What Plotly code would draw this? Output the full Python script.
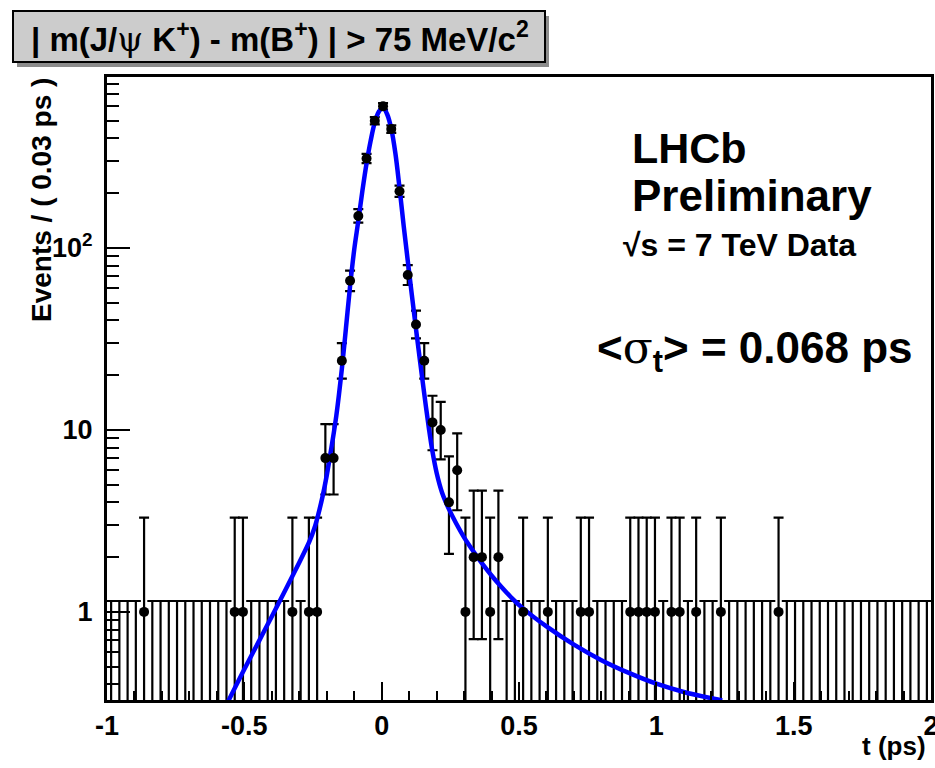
import math
import plotly.graph_objects as go

# Histogram binning of the decay time (ps)
T_MIN, T_MAX, BIN_W = -1.0, 2.0, 0.03

# Non-empty bins: bin centre (ps) and number of events
filled_t = [-0.865, -0.535, -0.505, -0.325, -0.265, -0.235, -0.205, -0.175,
            -0.145, -0.115, -0.085, -0.055, -0.025, 0.005, 0.035, 0.065,
            0.095, 0.125, 0.155, 0.185, 0.215, 0.245, 0.275, 0.305, 0.335,
            0.365, 0.395, 0.425, 0.515, 0.605, 0.725, 0.755, 0.905, 0.935,
            0.965, 0.995, 1.055, 1.085, 1.145, 1.235, 1.445]
filled_n = [1, 1, 1, 1, 1, 1, 7, 7,
            24, 66, 150, 310, 500, 600, 450, 205,
            71, 38, 24, 11, 10, 4, 6, 1, 2,
            2, 1, 2, 1, 1, 1, 1, 1, 1,
            1, 1, 1, 1, 1, 1, 1]

# Fitted resolution model, sampled along t (ps)
fit_t = [-0.56, -0.5, -0.45, -0.4, -0.35, -0.3, -0.263, -0.245, -0.23, -0.215,
         -0.2, -0.19, -0.18, -0.165, -0.145, -0.13, -0.115, -0.1, -0.085, -0.07,
         -0.055, -0.04, -0.025, -0.01, 0.005, 0.02, 0.035, 0.05, 0.065, 0.08,
         0.095, 0.11, 0.125, 0.14, 0.155, 0.172, 0.185, 0.2, 0.22, 0.245,
         0.27, 0.3, 0.335, 0.366, 0.4, 0.437, 0.47, 0.51, 0.6, 0.7,
         0.8, 0.9, 1.0, 1.1, 1.21, 1.24]
fit_v = [0.32, 0.484, 0.676, 0.944, 1.324, 1.87, 2.44, 2.88, 3.47, 4.32,
         5.62, 6.89, 8.51, 12.0, 21.6, 36.3, 61.7, 97.7, 141, 207,
         292, 389, 490, 562, 592, 543, 452, 331, 214, 133,
         85.1, 55.0, 35.9, 23.7, 15.8, 10.2, 7.59, 5.82, 4.52, 3.67,
         3.09, 2.57, 2.14, 1.84, 1.585, 1.365, 1.208, 1.059, 0.832, 0.661,
         0.543, 0.462, 0.403, 0.363, 0.333, 0.326]

Y_RANGE = (0.328, 870)


def pois_cdf(k, mu):
    """P(X <= k) for a Poisson variable of mean mu."""
    term = math.exp(-mu)
    s = term
    for j in range(1, k + 1):
        term *= mu / j
        s += term
    return s


def root(f, lo, hi):
    """Bisection for a function that is positive left of its root."""
    for _ in range(80):
        mid = 0.5 * (lo + hi)
        if f(mid) > 0:
            lo = mid
        else:
            hi = mid
    return 0.5 * (lo + hi)


def pois_interval(n, alpha=0.31731):
    """Central 68.27% Poisson interval, as used for binned data."""
    if n == 0:
        return 0.0, -math.log(alpha)
    up = root(lambda mu: pois_cdf(n, mu) - alpha / 2, n, n + 10 * math.sqrt(n) + 10)
    dn = root(lambda mu: pois_cdf(n - 1, mu) - (1 - alpha / 2), 0.0, n)
    return dn, up


# Full histogram including empty bins
nbins = int(round((T_MAX - T_MIN) / BIN_W))
centers = [round(T_MIN + BIN_W * (i + 0.5), 4) for i in range(nbins)]
counts = [0] * nbins
for t, n in zip(filled_t, filled_n):
    counts[int(round((t - T_MIN) / BIN_W - 0.5))] = n

full_x, full_y, full_up, full_dn = [], [], [], []
empty_x, empty_top = [], []
for c, n in zip(centers, counts):
    lo, hi = pois_interval(n)
    if n > 0:
        full_x.append(c)
        full_y.append(n)
        full_up.append(hi - n)
        full_dn.append(n - lo)
    else:
        empty_x.append(c)
        empty_top.append(hi)

FONT = "Liberation Sans"
ERR = dict(color="black", thickness=2.2, width=5)
fig = go.Figure()

# Upper limits of the empty bins (interval [0, hi])
fig.add_trace(go.Scatter(
    x=empty_x, y=empty_top, mode="markers",
    marker=dict(size=2, opacity=0, color="black"),
    error_y=dict(type="data", symmetric=False, array=[0] * len(empty_x),
                 arrayminus=empty_top, **ERR),
    hoverinfo="skip", showlegend=False,
))

# Error bars of the filled bins
fig.add_trace(go.Scatter(
    x=full_x, y=full_y, mode="markers",
    marker=dict(size=2, opacity=0, color="black"),
    error_y=dict(type="data", symmetric=False, array=full_up, arrayminus=full_dn, **ERR),
    hoverinfo="skip", showlegend=False,
))

# Fit curve
fig.add_trace(go.Scatter(
    x=fit_t, y=fit_v, mode="lines",
    line=dict(color="#0000ff", width=4.5, shape="spline", smoothing=1.0),
    showlegend=False,
))

# Data points
fig.add_trace(go.Scatter(
    x=filled_t, y=filled_n, mode="markers",
    marker=dict(size=10, color="black"),
    showlegend=False,
))

# Plot-area geometry in page pixels
W, H = 935, 768
L, R, T, B = 107, 931, 77, 700


def px(x):
    return (x - L) / (R - L)


def py(y):
    return (B - y) / (B - T)


TICKFONT = dict(size=27, family=FONT, weight="bold", color="black")
fig.update_layout(
    width=W, height=H,
    margin=dict(l=L, r=W - R, t=T, b=H - B, pad=0, autoexpand=False),
    paper_bgcolor="white", plot_bgcolor="white",
    font=dict(family=FONT, color="black", size=26, weight="bold"),
    xaxis=dict(
        range=[T_MIN, T_MAX], tickvals=[-1, -0.5, 0, 0.5, 1, 1.5, 2],
        ticktext=["-1", "-0.5", "0", "0.5", "1", "1.5", "2"],
        ticks="inside", ticklen=18, tickwidth=2, tickcolor="black",
        minor=dict(ticks="inside", ticklen=9, tickwidth=2, tickcolor="black", dtick=0.1),
        showline=True, linewidth=3, linecolor="black", mirror=True,
        showgrid=False, zeroline=False, ticklabeloverflow="allow",
        automargin=False, tickfont=TICKFONT,
    ),
    yaxis=dict(
        type="log", range=[math.log10(Y_RANGE[0]), math.log10(Y_RANGE[1])],
        tickvals=[1, 10, 100], ticktext=["1", "10", "10<sup>2</sup>"],
        ticks="inside", ticklen=23, tickwidth=2, tickcolor="black",
        minor=dict(ticks="inside", ticklen=12, tickwidth=2, tickcolor="black", dtick="D1"),
        showline=True, linewidth=3, linecolor="black", mirror=True,
        showgrid=False, zeroline=False, ticklabeloverflow="allow",
        automargin=False, tickfont=TICKFONT, ticklabelstandoff=6,
    ),
)

# Title box with drop shadow
bx0, by0, bx1, by1 = 13, 11, 545, 62
fig.add_shape(type="rect", xref="paper", yref="paper",
              x0=px(bx0 + 4), x1=px(bx1 + 4), y0=py(by0 + 5), y1=py(by1 + 5),
              fillcolor="#8c8c8c", line=dict(width=0), layer="below")
fig.add_shape(type="rect", xref="paper", yref="paper",
              x0=px(bx0), x1=px(bx1), y0=py(by0), y1=py(by1),
              fillcolor="#cccccc", line=dict(color="black", width=2), layer="above")

serif = "font-family:'DejaVu Serif','Liberation Serif';font-weight:normal"
annos = [
    dict(text="| m(J/<span style=\"" + serif + "\">ψ</span> K<sup>+</sup>) - m(B<sup>+</sup>) | &gt; 75 MeV/c<sup>2</sup>",
         x=px(280), y=py(37), size=33, xanchor="center"),
    dict(text="LHCb", x=px(630), y=py(148), size=43, xanchor="left"),
    dict(text="Preliminary", x=px(630), y=py(195), size=44, xanchor="left"),
    dict(text="√s = 7 TeV Data", x=px(621), y=py(245), size=32, xanchor="left"),
    dict(text="&lt;<span style=\"" + serif + "\">σ</span><sub>t</sub>&gt; = 0.068 ps",
         x=px(595), y=py(350), size=44, xanchor="left"),
    dict(text="t (ps)", x=px(928), y=py(746), size=26, xanchor="right"),
]
for a in annos:
    fig.add_annotation(text=a["text"], x=a["x"], y=a["y"], xref="paper", yref="paper",
                       xanchor=a["xanchor"], yanchor="middle", showarrow=False,
                       font=dict(size=a["size"], family=FONT, weight="bold", color="black"))

fig.add_annotation(text="Events / ( 0.03 ps )", x=px(42), y=py(76), xref="paper", yref="paper",
                   xanchor="center", yanchor="top", textangle=-90, showarrow=False,
                   font=dict(size=28, family=FONT, weight="bold", color="black"))

fig.write_html("out.html")
